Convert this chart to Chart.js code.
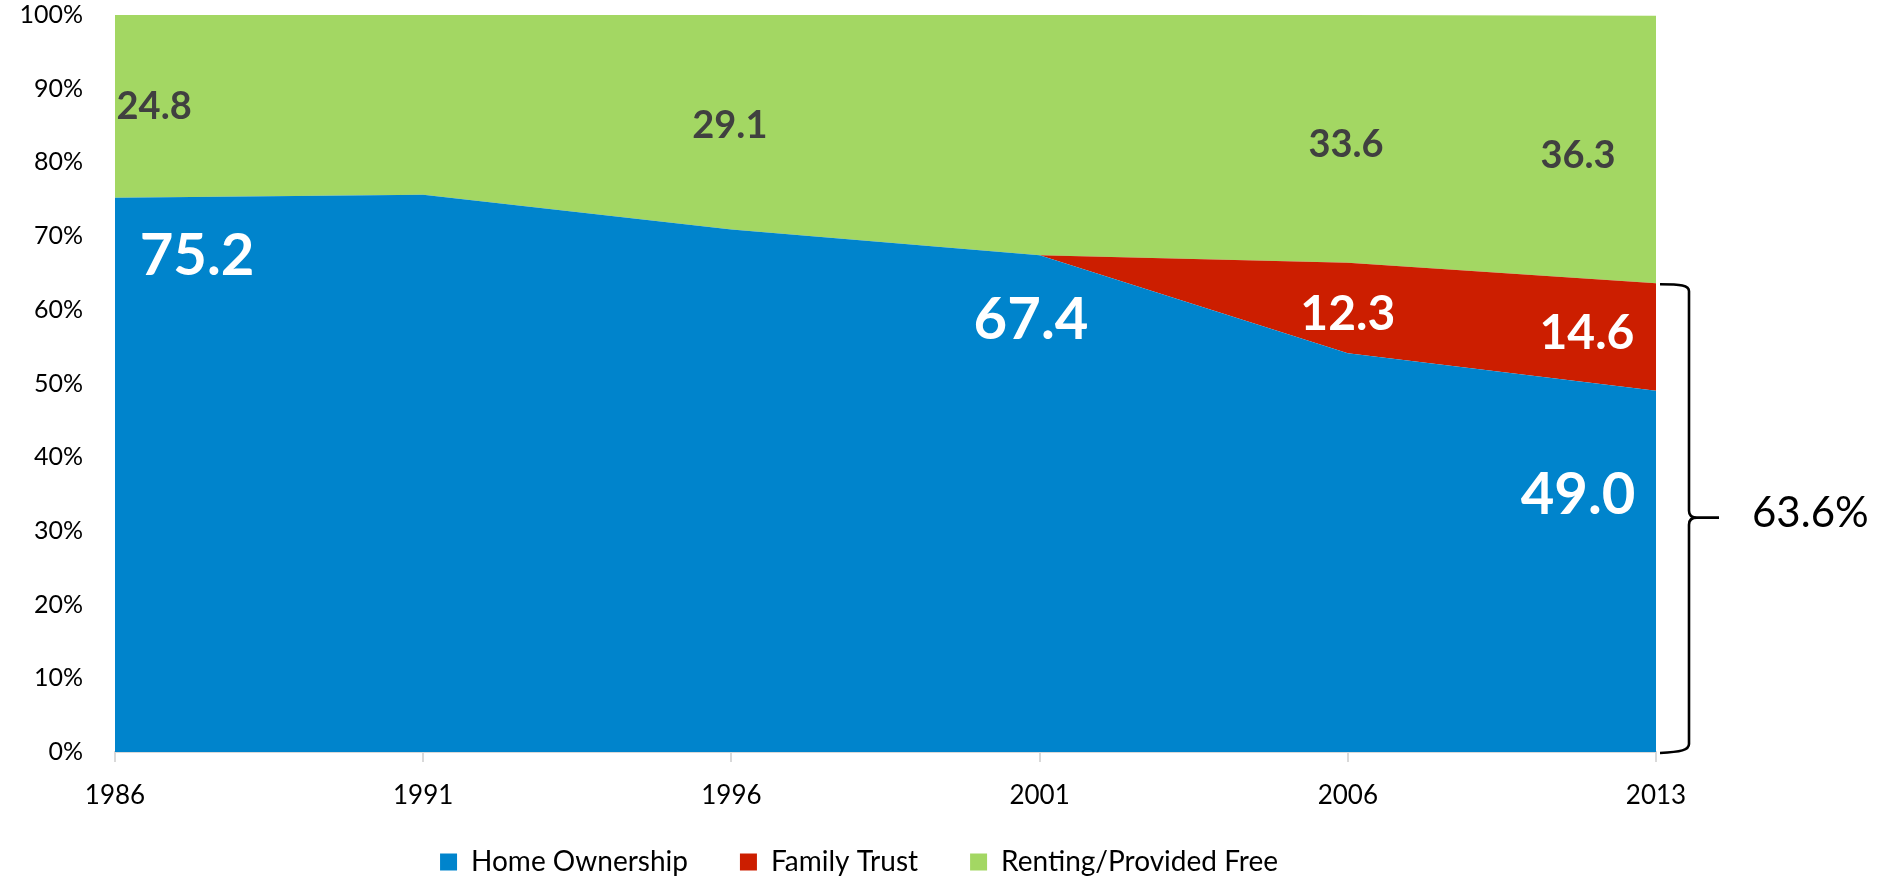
<!DOCTYPE html>
<html><head><meta charset="utf-8">
<script src="https://cdn.jsdelivr.net/npm/chart.js@4.4.0/dist/chart.umd.min.js"></script>
<style>html,body{margin:0;padding:0;background:#fff;}#wrap{width:1885px;height:879px;position:relative;}</style>
</head><body><div id="wrap"><canvas id="c"></canvas></div>
<script>
const years = ['1986', '1991', '1996', '2001', '2006', '2013'];
const homeOwnership = [75.2, 75.6, 70.9, 67.4, 54.1, 49.0];
const familyTrust = [0, 0, 0, 0, 12.3, 14.6];
const rentingFree = [24.8, 24.4, 29.1, 32.6, 33.6, 36.3];
const seriesNames = ['Home Ownership', 'Family Trust', 'Renting/Provided Free'];
const yTickStep = 10;

const colors = ['#0084CC', '#CC1E00', '#A3D763'];
const FONT = 'Lato, "Open Sans", sans-serif';
const CAP = 0.716; // Lato cap-height ratio, used to centre digits

// label placement: dataset index, category index, offset in categories, y in %
const labelPlacements = [
  {ds: 0, i: 0, dx: 0.266, y: 67.6, size: 58, color: '#ffffff'},
  {ds: 0, i: 3, dx: -0.028, y: 58.8, size: 58, color: '#ffffff'},
  {ds: 0, i: 5, dx: -0.253, y: 35.1, size: 58, color: '#ffffff'},
  {ds: 1, i: 4, dx: 0.0, y: 59.6, size: 48, color: '#ffffff'},
  {ds: 1, i: 5, dx: -0.224, y: 57.0, size: 48, color: '#ffffff'},
  {ds: 2, i: 0, dx: 0.127, y: 87.8, size: 38, color: '#404040'},
  {ds: 2, i: 2, dx: -0.005, y: 85.1, size: 38, color: '#404040'},
  {ds: 2, i: 4, dx: -0.006, y: 82.6, size: 38, color: '#404040'},
  {ds: 2, i: 5, dx: -0.253, y: 81.1, size: 38, color: '#404040'}
];

const seriesData = [homeOwnership, familyTrust, rentingFree];

const annotationPlugin = {
  id: 'annot',
  afterLayout(chart) {
    // nudge legend to match reference placement
    const lg = chart.legend;
    lg.left += 31; lg.right += 31;
    lg.top -= 13;
  },
  afterDatasetsDraw(chart) {
    const ctx = chart.ctx;
    const xs = chart.scales.x, ys = chart.scales.y;
    ctx.save();
    ctx.textAlign = 'center';
    ctx.textBaseline = 'alphabetic';
    labelPlacements.forEach(p => {
      const v = seriesData[p.ds][p.i];
      ctx.font = 'bold ' + p.size + 'px ' + FONT;
      ctx.fillStyle = p.color;
      ctx.fillText(v.toFixed(1), xs.getPixelForValue(p.i + p.dx), ys.getPixelForValue(p.y) + p.size * CAP / 2);
    });
    // bracket around last-year home ownership + family trust
    const last = years.length - 1;
    const total = homeOwnership[last] + familyTrust[last];
    const r = chart.chartArea.right;
    const yTop = ys.getPixelForValue(total);
    const yBot = ys.getPixelForValue(0);
    const yMid = (yTop + yBot) / 2;
    const x0 = r + 4, xv = r + 33, xp = r + 63;
    ctx.strokeStyle = '#000';
    ctx.lineWidth = 2.6;
    ctx.beginPath();
    ctx.moveTo(x0, yTop + 1);
    ctx.bezierCurveTo(xv - 8, yTop + 1, xv, yTop + 2, xv, yTop + 8);
    ctx.lineTo(xv, yMid - 7);
    ctx.quadraticCurveTo(xv, yMid, xv + 8, yMid);
    ctx.lineTo(xp, yMid);
    ctx.moveTo(xv + 8, yMid);
    ctx.quadraticCurveTo(xv, yMid, xv, yMid + 7);
    ctx.lineTo(xv, yBot - 8);
    ctx.bezierCurveTo(xv, yBot - 2, xv - 8, yBot, x0, yBot + 1);
    ctx.stroke();
    const fs = 42;
    ctx.font = fs + 'px ' + FONT;
    ctx.fillStyle = '#000';
    ctx.textAlign = 'left';
    ctx.fillText(total.toFixed(1) + '%', r + 96, yMid - 6 + fs * CAP / 2);
    ctx.restore();
  }
};

new Chart(document.getElementById('c'), {
  type: 'line',
  data: {
    labels: years,
    datasets: seriesData.map((d, k) => ({
      label: seriesNames[k],
      data: d,
      backgroundColor: colors[k],
      borderColor: colors[k],
      borderWidth: 0,
      pointRadius: 0,
      tension: 0,
      fill: k === 0 ? 'origin' : '-1'
    }))
  },
  options: {
    responsive: true,
    maintainAspectRatio: false,
    animation: false,
    devicePixelRatio: 1,
    layout: {padding: {left: 0, right: 229, top: 15, bottom: 0}},
    plugins: {
      tooltip: {enabled: false},
      legend: {
        position: 'bottom',
        maxHeight: 70,
        labels: {
          boxWidth: 17, boxHeight: 17, padding: 52,
          color: '#000',
          font: {family: FONT, size: 28}
        }
      }
    },
    scales: {
      x: {
        offset: false,
        grid: {display: true, drawOnChartArea: false, drawTicks: true, tickLength: 10, color: '#d9d9d9', lineWidth: 2},
        border: {display: true, color: '#d9d9d9', width: 2},
        ticks: {color: '#000', font: {family: FONT, size: 26}, padding: 18, maxRotation: 0},
        afterFit(s) { s.height = 57; }
      },
      y: {
        stacked: true,
        min: 0, max: 100,
        grid: {display: false, drawTicks: false},
        border: {display: false},
        ticks: {stepSize: yTickStep, color: '#000', font: {family: FONT, size: 25}, padding: 32,
          callback: v => v + '%'},
        afterFit(s) { s.width = 115; s.paddingTop = 0; s.paddingBottom = 0; }
      }
    }
  },
  plugins: [annotationPlugin]
});
</script>
</body></html>
